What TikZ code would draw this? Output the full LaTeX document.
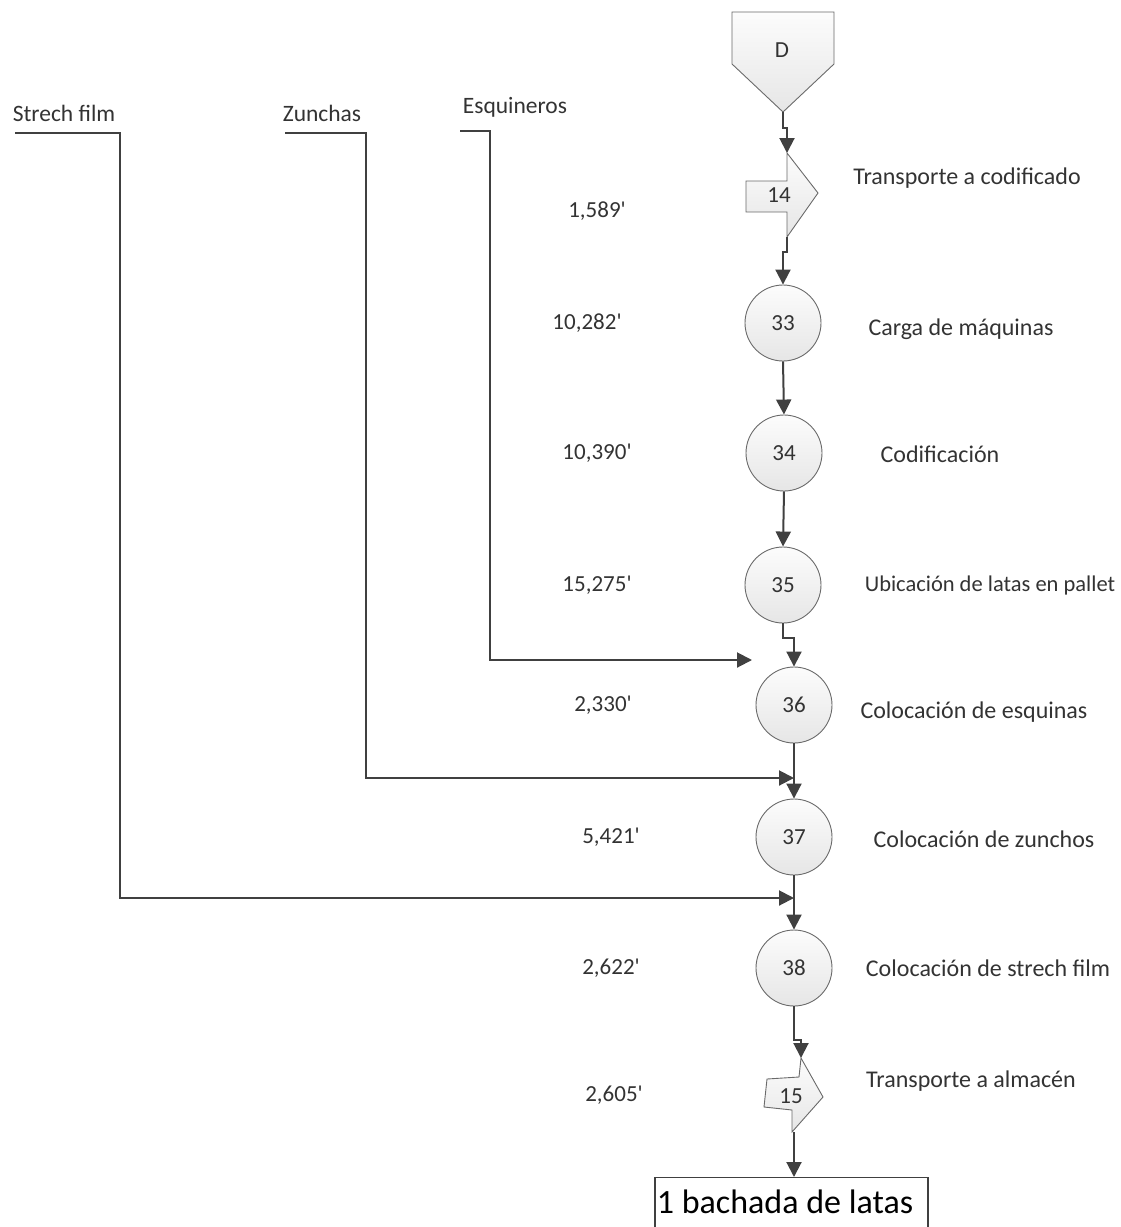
\documentclass[tikz,border=0pt]{standalone}
\usepackage{fontspec}
\setmainfont{Carlito}
\usetikzlibrary{arrows.meta}
\definecolor{linec}{HTML}{404040}
\definecolor{edgec}{HTML}{6A6A6A}
\definecolor{txt}{HTML}{333333}
\definecolor{shadetop}{HTML}{FCFCFC}
\definecolor{shadebot}{HTML}{E6E6E6}
\newcommand{\mn}{\textquotesingle}
\begin{document}
\begin{tikzpicture}[x=1pt,y=-1pt,
  conn/.style={draw=linec, line width=2pt, -{Triangle[length=15pt,width=15pt]}},
  symb/.style={draw=edgec, line width=0.9pt, top color=shadetop, bottom color=shadebot},
  opcircle/.style={circle, symb, minimum size=76pt, inner sep=0pt, text=txt,
    font=\fontsize{23}{25}\selectfont},
  numtxt/.style={text=txt, font=\fontsize{23}{25}\selectfont, inner sep=0pt},
  lbl/.style={text=txt, font=\fontsize{24}{26}\selectfont, inner sep=0pt},
  tval/.style={text=txt, font=\fontsize{23}{25}\selectfont, inner sep=0pt},
  src/.style={text=txt, font=\fontsize{23.5}{26}\selectfont, inner sep=0pt},
  endbox/.style={draw=linec, line width=1.2pt, fill=white, text=black,
    font=\fontsize{34}{36}\selectfont, inner sep=0pt}
]
\useasboundingbox (0,0) rectangle (1120,1227);

% ---- storage symbol D ----
\path[symb] (732,12) -- (834,12) -- (834,64) -- (783,112) -- (732,64) -- cycle;
\node[numtxt] (D) at (782,50) {D};
\coordinate (Dtip) at (783,112);

% ---- transport 14 ----
\path[symb] (746,181) -- (787,181) -- (787,153) -- (818,193) -- (787,237)
  -- (787,212) -- (746,212) -- cycle;
\node[numtxt] (t14) at (779,195) {14};
\coordinate (t14in) at (787,153);
\coordinate (t14out) at (787,237);

% ---- operations ----
\node[opcircle] (c33) at (783,323) {33};
\node[opcircle] (c34) at (784,453) {34};
\node[opcircle] (c35) at (783,585) {35};
\node[opcircle] (c36) at (794,705) {36};
\node[opcircle] (c37) at (794,837) {37};
\node[opcircle] (c38) at (794,968) {38};

% ---- transport 15 ----
\path[symb] (767,1079) -- (799,1077) -- (801,1058) -- (823,1097) -- (792,1132)
  -- (792,1110) -- (764,1107) -- cycle;
\node[numtxt] (t15) at (791,1096) {15};
\coordinate (t15in) at (801,1058);
\coordinate (t15out) at (794,1132);

% ---- final product ----
\node[endbox, anchor=north, minimum width=273pt, minimum height=56pt] (box)
  at (791.5,1177) {};
\node[text=black, font=\fontsize{34}{36}\selectfont, inner sep=0pt] (boxtxt)
  at (785,1202) {1 bachada de latas};

% ---- main flow ----
\draw[conn] (Dtip) -- (783,128) -- (787,128) -- (t14in);
\draw[conn] (t14out) -- (787,252) -- (783,252) -- (c33.north);
\draw[conn] (c33.south) -- (c34.north);
\draw[conn] (c34.south) -- (c35.north);
\draw[conn] (c35.south) -- (783,638) -- (794,638) -- (c36.north);
\draw[conn] (c36.south) -- (c37.north);
\draw[conn] (c37.south) -- (c38.north);
\draw[conn] (c38.south) -- (794,1040) -- (801,1040) -- (t15in);
\draw[conn] (t15out) -- (box.north -| t15out);

% ---- incoming materials ----
\node[src] (sf) at (64,113) {Strech film};
\node[src] (zu) at (322,113) {Zunchas};
\node[src] (es) at (515,107) {Esquineros};
\coordinate (sf0) at (15,133);
\coordinate (zu0) at (285,133);
\coordinate (es0) at (460,131);
\coordinate (esin) at (752,660);
\coordinate (zuin) at (794,778);
\coordinate (sfin) at (794,898);
\draw[conn] (es0) -- (490,131) |- (esin);
\draw[conn] (zu0) -- (366,133) |- (zuin);
\draw[conn] (sf0) -- (120,133) |- (sfin);

% ---- times ----
\node[tval] at (597,211) {1,589\mn};
\node[tval] at (587,323) {10,282\mn};
\node[tval] at (597,453) {10,390\mn};
\node[tval] at (597,585) {15,275\mn};
\node[tval] at (603,705) {2,330\mn};
\node[tval] at (611,837) {5,421\mn};
\node[tval] at (611,968) {2,622\mn};
\node[tval] at (614,1095) {2,605\mn};

% ---- activity descriptions ----
\node[lbl] (l14) at (967,178) {Transporte a codificado};
\node[lbl] (l33) at (961,329) {Carga de máquinas};
\node[lbl] (l34) at (940,454) {Codificación};
\node[lbl, font=\fontsize{22.5}{25}\selectfont] (l35) at (990,585) {Ubicación de latas en pallet};
\node[lbl] (l36) at (974,712) {Colocación de esquinas};
\node[lbl] (l37) at (984,839) {Colocación de zunchos};
\node[lbl] (l38) at (988,968) {Colocación de strech film};
\node[lbl] (l15) at (971,1081) {Transporte a almacén};
\end{tikzpicture}
\end{document}
